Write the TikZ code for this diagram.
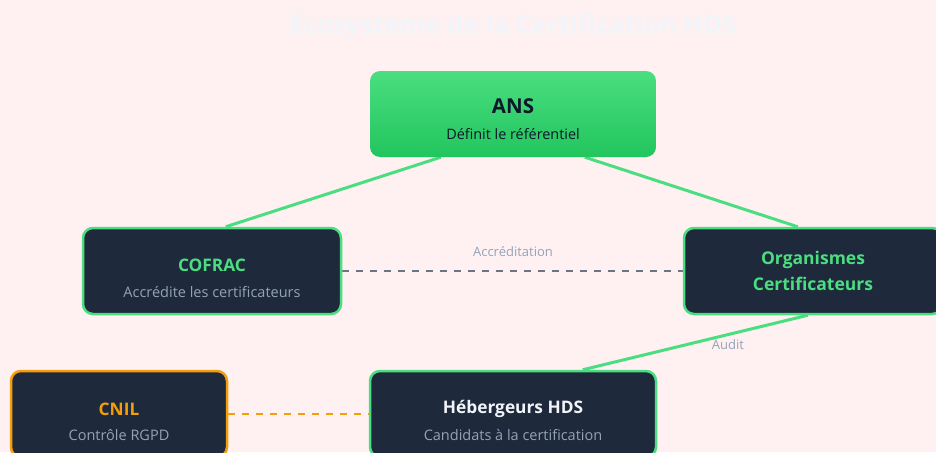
\documentclass[tikz,border=0pt]{standalone}
\usepackage{fontspec}
\setmainfont{Open Sans}
\usetikzlibrary{calc,backgrounds}
\definecolor{bgc}{HTML}{FFF1F2}
\definecolor{darkc}{HTML}{1E293B}
\definecolor{greenc}{HTML}{4ADE80}
\definecolor{greend}{HTML}{22C55E}
\definecolor{orangec}{HTML}{F59E0B}
\definecolor{grayt}{HTML}{94A3B8}
\definecolor{grayl}{HTML}{6B7588}
\definecolor{whitec}{HTML}{F1F5F9}
\definecolor{inkc}{HTML}{0F172A}
\tikzset{
  box/.style={draw=greenc, line width=2.5pt, fill=darkc, rounded corners=10pt,
    inner sep=0pt},
  ttl/.style={font=\bfseries\fontsize{17.3}{20}\selectfont},
  sub/.style={font=\fontsize{14.5}{17}\selectfont, text=grayt},
  link/.style={draw=greenc, line width=3pt},
  lbl/.style={font=\fontsize{13}{15}\selectfont, text=grayt},
  dashlink/.style={line width=1.8pt, dash pattern=on 7pt off 7pt},
}
\begin{document}
\begin{tikzpicture}[x=1pt,y=-1pt]
\useasboundingbox (0,0) rectangle (936,452);
\clip (0,0) rectangle (936,452);
\begin{pgfonlayer}{background}
\fill[bgc] (0,0) rectangle (936,452);
\end{pgfonlayer}
\node[font=\bfseries\fontsize{25.8}{30}\selectfont, text=whitec] (title) at (513,25) {Écosystème de la Certification HDS};

% nodes
\node[rounded corners=10pt, minimum width=286pt, minimum height=86pt, inner sep=0pt,
  top color=greenc, bottom color=greend] (ans) at (513,114) {};
\node[box, minimum width=258pt, minimum height=86pt] (cofrac) at (212,271) {};
\node[box, minimum width=258pt, minimum height=86pt] (org) at (813,271) {};
\node[box, draw=orangec, minimum width=216pt, minimum height=86pt] (cnil) at (119,414) {};
\node[box, minimum width=286pt, minimum height=86pt] (heb) at (513,414) {};

% texts
\node[font=\bfseries\fontsize{20.5}{24}\selectfont, text=inkc] (ansT) at (513,106) {ANS};
\node[font=\fontsize{14.4}{17}\selectfont, text=inkc] (ansS) at (513,134) {Définit le référentiel};
\node[ttl, text=greenc] (cofT) at (212,265) {COFRAC};
\node[sub] (cofS) at (212,292) {Accrédite les certificateurs};
\node[text=greenc, align=center, font=\bfseries\fontsize{17.5}{26}\selectfont] (orgT) at (813,271) {Organismes\\Certificateurs};
\node[ttl, text=orangec] (cnilT) at (119,409) {CNIL};
\node[sub] (cnilS) at (119,435) {Contrôle RGPD};
\node[ttl, text=whitec] (hebT) at (513,409) {Hébergeurs HDS};
\node[sub] (hebS) at (513,435) {Candidats à la certification};

% connectors (behind boxes)
\coordinate (a1) at ($(ans.south west)+(71,0)$);
\coordinate (a2) at ($(ans.south west)+(215,0)$);
\coordinate (c1) at ($(cofrac.north west)+(144,0)$);
\coordinate (o1) at ($(org.north west)+(115,0)$);
\coordinate (o2) at ($(org.south west)+(125,0)$);
\coordinate (h1) at ($(heb.north west)+(214,0)$);
\begin{pgfonlayer}{background}
\draw[link] (a1) -- (c1);
\draw[link] (a2) -- (o1);
\draw[link] (o2) -- (h1);
\draw[grayl, dashlink] (cofrac.east) -- (org.west);
\draw[orangec, dashlink] (cnil.east) -- (heb.west);
\end{pgfonlayer}
\node[lbl] (auditL) at (728,345) {Audit};
\node[lbl] (accL) at (513,252) {Accréditation};
\end{tikzpicture}
\end{document}
